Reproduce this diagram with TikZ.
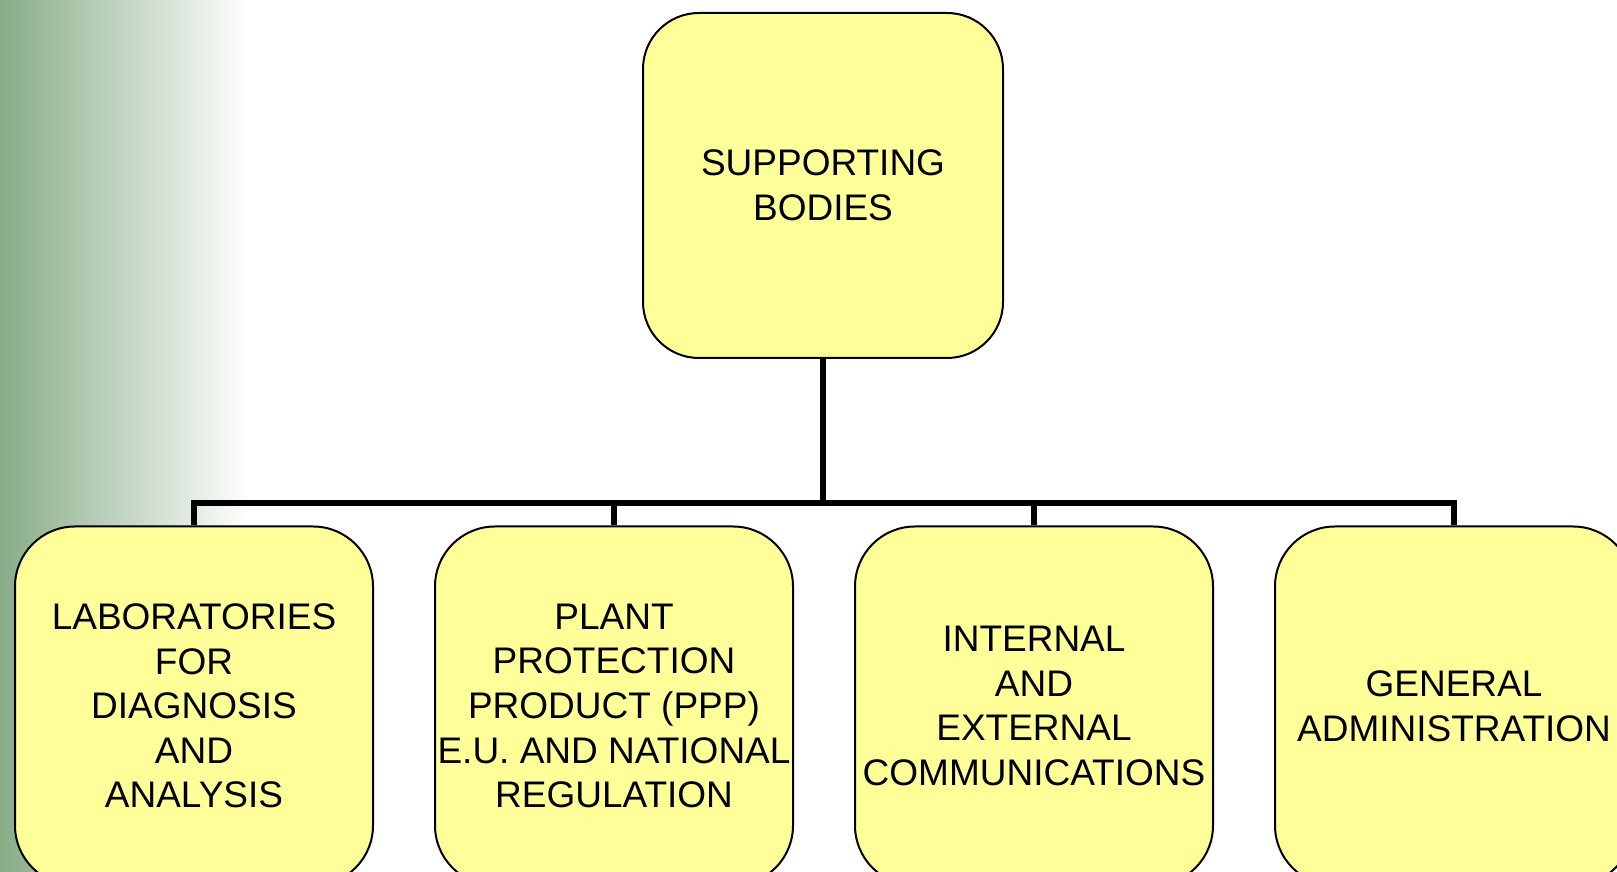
\documentclass[tikz,border=0pt]{standalone}
\usepackage{fontspec}
\setmainfont{Liberation Sans}
\definecolor{boxyellow}{RGB}{255,255,153}
\definecolor{sidegreen}{RGB}{136,172,136}

\begin{document}
\begin{tikzpicture}[x=0.5pt,y=0.5pt,
    unitbox/.style={draw=black, line width=1pt, fill=boxyellow, align=center,
      inner sep=0pt, font=\fontsize{18.5}{22.3}\selectfont},
    topbox/.style={unitbox, rounded corners=28pt, minimum width=180pt, minimum height=172.5pt},
    subbox/.style={unitbox, rounded corners=30pt, minimum width=179pt, minimum height=179.5pt},
    link/.style={line width=2.6pt}]
  \useasboundingbox (0,0) rectangle (1617,872);
  \clip (0,0) rectangle (1617,872);
  % shaded strip on the left
  \fill[left color=sidegreen, right color=white] (0,0) rectangle (250,872);
  \coordinate (bar) at (823,369);
  \node[topbox] (sup) at (823,686.5) {SUPPORTING\\BODIES};
  \node[subbox] (lab) at (194,166) {LABORATORIES\\FOR\\DIAGNOSIS\\AND\\ANALYSIS};
  \node[subbox] (ppp) at (614,166) {PLANT\\PROTECTION\\PRODUCT (PPP)\\E.U. AND NATIONAL\\REGULATION};
  \node[subbox] (com) at (1034,166) {INTERNAL\\AND\\EXTERNAL\\COMMUNICATIONS};
  \node[subbox] (adm) at (1454,166) {GENERAL\\ADMINISTRATION};
  % tree lines
  \draw[link] (sup.south) -- (sup.south |- bar);
  \draw[link] (lab.north) -- (lab.north |- bar) -- (adm.north |- bar) -- (adm.north);
  \draw[link] (ppp.north) -- (ppp.north |- bar);
  \draw[link] (com.north) -- (com.north |- bar);
\end{tikzpicture}
\end{document}
